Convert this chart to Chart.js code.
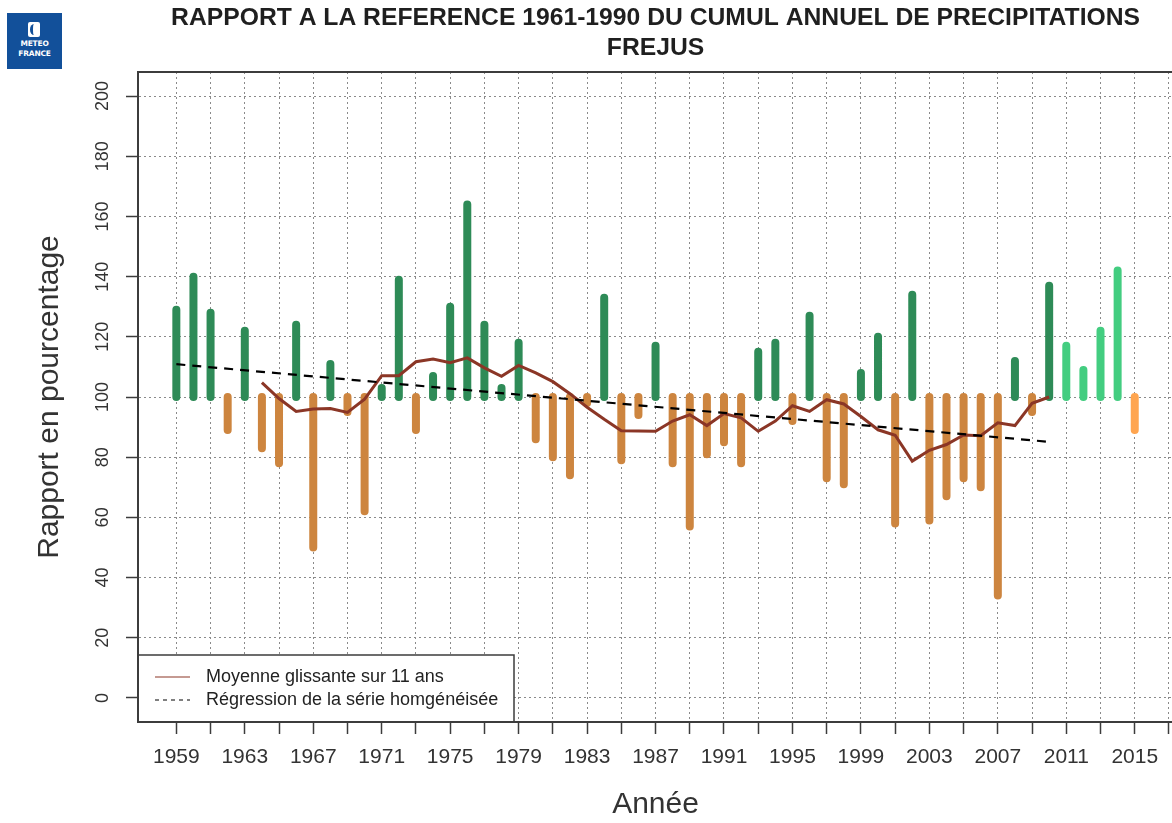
<!DOCTYPE html>
<html>
<head>
<meta charset="utf-8">
<script src="https://cdn.jsdelivr.net/npm/chart.js@4.4.1/dist/chart.umd.min.js"></script>
<style>
  html, body { margin: 0; padding: 0; background: #fff; overflow: hidden; width: 1172px; height: 823px; }
  #wrap { position: relative; width: 1172px; height: 823px; overflow: hidden; }
  #c { position: absolute; left: 0; top: 0; }
  #logo { position: absolute; left: 7px; top: 13px; width: 55px; height: 56px; background: #12509a;
          color: #fff; font-family: "DejaVu Sans", sans-serif; font-weight: bold; text-align: center; }
  #logo .ic { position: absolute; left: 21px; top: 9px; width: 12px; height: 15px; background: #fff; border-radius: 2px; }
  #logo .cr { position: absolute; left: 2px; top: 2px; width: 8px; height: 11px; border-radius: 50%;
              border-left: 3px solid #12509a; box-sizing: border-box; }
  #logo .t1, #logo .t2 { position: absolute; left: 0; width: 100%; font-size: 7.5px; line-height: 8px; letter-spacing: -0.2px; }
  #logo .t1 { top: 27px; }
  #logo .t2 { top: 37px; }
</style>
</head>
<body>
<div id="wrap">
  <canvas id="c" width="1180" height="823"></canvas>
  <div id="logo"><div class="ic"><div class="cr"></div></div><div class="t1">METEO</div><div class="t2">FRANCE</div></div>
</div>
<script>
// ---------------- DATA ----------------
const years = [1959,1960,1961,1962,1963,1964,1965,1966,1967,1968,1969,1970,1971,1972,1973,1974,1975,1976,1977,1978,
               1979,1980,1981,1982,1983,1984,1985,1986,1987,1988,1989,1990,1991,1992,1993,1994,1995,1996,1997,1998,
               1999,2000,2001,2002,2003,2004,2005,2006,2007,2008,2009,2010,2011,2012,2013,2014,2015];
const ratios = [129,140,128,89,122,83,78,124,50,111,95,62,103,139,89,107,130,164,124,103,
                118,86,80,74,98,133,79,94,117,78,57,81,85,78,115,118,92,127,73,71,
                108,120,58,134,59,67,73,70,34,112,95,137,117,109,122,142,89];
const movingYears = [1964,1965,1966,1967,1968,1969,1970,1971,1972,1973,1974,1975,1976,1977,1978,1979,1980,1981,1982,1983,
                     1984,1985,1986,1987,1988,1989,1990,1991,1992,1993,1994,1995,1996,1997,1998,1999,2000,2001,2002,2003,
                     2004,2005,2006,2007,2008,2009,2010];
const movingAvg = [104.8,99.5,95.2,96.0,96.2,94.9,99.3,107.1,107.1,111.7,112.6,111.4,113.0,109.7,106.9,110.5,108.0,105.1,101.1,96.6,
                   92.6,88.8,88.7,88.6,92.0,94.1,90.5,94.5,93.1,88.6,92.0,97.1,95.2,99.1,97.7,93.5,89.1,87.3,78.7,82.3,
                   84.2,87.4,87.1,91.4,90.5,97.9,100.0];
const regressionYears = [1959, 2010];
const regressionValues = [110.9, 85.1];
const xTickYears = [1959,1961,1963,1965,1967,1969,1971,1973,1975,1977,1979,1981,1983,1985,1987,1989,1991,1993,1995,1997,
                    1999,2001,2003,2005,2007,2009,2011,2013,2015,2017];
const xLabelYears = [1959,1963,1967,1971,1975,1979,1983,1987,1991,1995,1999,2003,2007,2011,2015];
const yTicks = [0,20,40,60,80,100,120,140,160,180,200];
const referenceLevel = 100;
const lastHomogenizedYear = 2010;
const titleLines = ['RAPPORT A LA REFERENCE 1961-1990 DU CUMUL ANNUEL DE PRECIPITATIONS', 'FREJUS'];
const legendLabels = ['Moyenne glissante sur 11 ans', 'Régression de la série homgénéisée'];

// ---------------- STYLE ----------------
const FONT = '"Liberation Sans", Arial, Helvetica, sans-serif';
const C_DARKGREEN = '#2E8B57', C_ORANGE = '#CD853F', C_LIGHTGREEN = '#43CD80', C_LIGHTORANGE = '#FFA54F';
const C_MOVING = '#8B3626';
const GRID = '#8a8a8a', AXIS = '#3c3c3c', TEXT = '#333333';

function barSegments(test) {
  const pts = [];
  years.forEach((yr, i) => {
    const v = ratios[i];
    if (!test(yr, v)) return;
    pts.push({x: yr, y: referenceLevel}, {x: yr, y: v}, {x: yr, y: null});
  });
  return pts;
}
function barDataset(label, color, test) {
  return { label, data: barSegments(test), borderColor: color, backgroundColor: color, borderWidth: 8,
           borderCapStyle: 'round', pointRadius: 0, spanGaps: false, fill: false, tension: 0, order: 3 };
}

const datasets = [
  { label: legendLabels[1], data: regressionYears.map((y, i) => ({x: y, y: regressionValues[i]})),
    borderColor: '#000', borderWidth: 2.2, borderDash: [9, 7], pointRadius: 0, fill: false, order: 0 },
  { label: legendLabels[0], data: movingYears.map((y, i) => ({x: y, y: movingAvg[i]})),
    borderColor: C_MOVING, borderWidth: 3, pointRadius: 0, fill: false, tension: 0, order: 1 },
  barDataset('excédent', C_DARKGREEN, (yr, v) => yr <= lastHomogenizedYear && v >= referenceLevel),
  barDataset('déficit', C_ORANGE, (yr, v) => yr <= lastHomogenizedYear && v < referenceLevel),
  barDataset('excédent récent', C_LIGHTGREEN, (yr, v) => yr > lastHomogenizedYear && v >= referenceLevel),
  barDataset('déficit récent', C_LIGHTORANGE, (yr, v) => yr > lastHomogenizedYear && v < referenceLevel)
];

const legendBoxPlugin = {
  id: 'legendBox',
  afterDatasetsDraw(chart) {
    const {ctx, chartArea} = chart;
    const left = chartArea.left, right = 514, top = 655, bottom = chartArea.bottom;
    ctx.save();
    ctx.fillStyle = '#fff';
    ctx.fillRect(left, top, right - left, bottom - top);
    ctx.strokeStyle = AXIS; ctx.lineWidth = 1.5;
    ctx.strokeRect(left, top, right - left, bottom - top);
    const rows = [677, 700];
    ctx.strokeStyle = C_MOVING; ctx.lineWidth = 1.2; ctx.setLineDash([]);
    ctx.beginPath(); ctx.moveTo(155, rows[0]); ctx.lineTo(190, rows[0]); ctx.stroke();
    ctx.strokeStyle = '#000'; ctx.lineWidth = 1; ctx.setLineDash([4, 4]);
    ctx.beginPath(); ctx.moveTo(155, rows[1]); ctx.lineTo(190, rows[1]); ctx.stroke();
    ctx.setLineDash([]);
    ctx.fillStyle = '#222'; ctx.font = '18px ' + FONT; ctx.textBaseline = 'middle'; ctx.textAlign = 'left';
    ctx.fillText(legendLabels[0], 206, rows[0]);
    ctx.fillText(legendLabels[1], 206, rows[1]);
    ctx.restore();
  },
  afterDraw(chart) {
    const {ctx, chartArea} = chart;
    ctx.save();
    ctx.strokeStyle = AXIS; ctx.lineWidth = 2;
    ctx.strokeRect(chartArea.left, chartArea.top, chartArea.right - chartArea.left, chartArea.bottom - chartArea.top);
    ctx.restore();
  }
};

new Chart(document.getElementById('c'), {
  type: 'line',
  data: { datasets },
  options: {
    responsive: false, animation: false, devicePixelRatio: 1,
    layout: { padding: { left: 0, right: 5, top: 0, bottom: 0 } },
    plugins: {
      legend: { display: false },
      tooltip: { enabled: false },
      title: { display: true, fullSize: false, text: titleLines, color: '#1f1f1f',
               font: { family: FONT, size: 24.7, weight: 'bold', lineHeight: 1.2146 },
               padding: { top: 3, bottom: 9 } }
    },
    scales: {
      x: {
        type: 'linear', min: 1956.76, max: 2017.24,
        afterBuildTicks: s => { s.ticks = xTickYears.map(v => ({ value: v })); },
        afterFit: s => { s.height = 101; },
        ticks: { autoSkip: false, maxRotation: 0, minRotation: 0, color: TEXT, padding: 11,
                 font: { family: FONT, size: 21 },
                 callback: v => xLabelYears.includes(v) ? String(v) : '' },
        grid: { color: GRID, lineWidth: 1, tickLength: 12, tickColor: AXIS, tickWidth: 1.5 },
        border: { display: true, color: AXIS, width: 2, dash: [2, 3] },
        title: { display: true, text: 'Année', color: TEXT, font: { family: FONT, size: 30 }, padding: { top: 0, bottom: 0 } }
      },
      y: {
        type: 'linear', min: -8, max: 208,
        afterBuildTicks: s => { s.ticks = yTicks.map(v => ({ value: v })); },
        afterFit: s => { s.width = 138; },
        ticks: { minRotation: 90, maxRotation: 90, crossAlign: 'center', padding: 8, color: TEXT,
                 font: { family: FONT, size: 18 } },
        grid: { color: GRID, lineWidth: 1, tickLength: 12, tickColor: AXIS, tickWidth: 1.5 },
        border: { display: true, color: AXIS, width: 2, dash: [2, 3] },
        title: { display: true, text: 'Rapport en pourcentage', color: TEXT, font: { family: FONT, size: 30 }, padding: { top: 32, bottom: 0 } }
      }
    }
  },
  plugins: [legendBoxPlugin]
});
</script>
</body>
</html>
